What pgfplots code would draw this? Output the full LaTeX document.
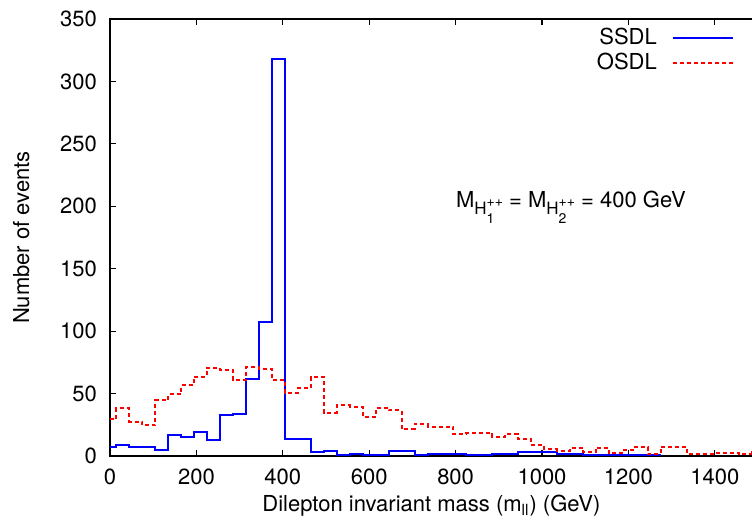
\documentclass[border=0pt]{standalone}
\usepackage{fontspec}
\setmainfont{TeX Gyre Heros}
\usepackage{amsmath}
\usepackage{pgfplots}
\pgfplotsset{compat=1.18}
\newcommand{\Hs}[1]{\raisebox{-3.6pt}{\fontsize{8.5}{8.5}\selectfont H\rlap{\raisebox{-4.6pt}{\fontsize{7}{7}\selectfont #1}}\raisebox{4.2pt}{\fontsize{7}{7}\selectfont ++}}}
\begin{document}
\begin{tikzpicture}[font=\fontsize{11}{13.2}\selectfont]
\begin{axis}[
  name=ax,
  scale only axis, width=324pt, height=218.5pt,
  xmin=0, xmax=1500, ymin=0, ymax=350,
  xtick={0,200,...,1400}, ytick={0,50,...,350},
  tick align=inside, major tick length=3pt,
  axis line style={line width=0.8pt},
  every tick/.style={black, line width=0.6pt},
  /pgf/number format/assume math mode=true,
  /pgf/number format/1000 sep={},
  xticklabel style={yshift=-3pt},
  yticklabel style={xshift=-3pt},
  xlabel={Dilepton invariant mass (m$_{\text{ll}}$) (GeV)},
  ylabel={Number of events},
  x label style={at={(axis description cs:0.496,0)}, anchor=center, yshift=-25pt},
  y label style={at={(axis description cs:-0.137,0.5)}, anchor=center},
  legend style={draw=none, fill=none, at={(1,1)}, anchor=north east, xshift=-12pt, yshift=-3pt,
    inner sep=0pt, column sep=6pt, nodes={inner sep=1.4pt}},
  legend cell align=right, legend plot pos=right,
  legend image code/.code={\draw[#1] (0pt,0pt) -- (30pt,0pt);},
]
\addplot[const plot mark left, blue, line width=1pt] coordinates {
(0,7.5) (15,9) (45,7.5) (75,7.5) (105,4.5) (135,16.5) (165,15.5) (195,19) (225,12.5)
(255,33) (285,34) (315,62) (345,107) (375,318) (405,13.5) (435,13.5) (465,3) (495,3.7)
(525,0.6) (555,2) (585,0.6) (615,0.6) (645,3.7) (675,3.7) (705,0.6) (735,2) (765,2) (795,2)
(825,0.6) (855,0.6) (885,2) (915,2) (945,3) (975,3) (1005,3) (1035,2) (1065,2) (1095,0.6)
(1125,0.6) (1155,0.6) (1185,0.6) (1215,0.6) (1245,0.6) (1275,0.6)
};
\addlegendentry{SSDL}
\addplot[const plot mark left, red, line width=1pt, dash pattern=on 2pt off 1.5pt] coordinates {
(0,29.4) (15,38.2) (45,27.5) (75,24.6) (105,44.8) (135,49.4) (165,56.9) (195,63.5) (225,70.7)
(255,68.9) (285,60.9) (315,71.5) (345,69.7) (375,60.9) (405,50.7) (435,54.7) (465,63.5)
(495,34.7) (525,40.5) (555,39.5) (585,31.5) (615,38.7) (645,36.8) (675,21.6) (705,25.6)
(735,23.5) (765,23.5) (795,17.6) (825,18.7) (855,18.7) (885,15.5) (915,17.6) (945,13.6)
(975,8.8) (1005,5.5) (1035,4.3) (1065,6.7) (1095,2.9) (1125,6.7) (1155,2.1) (1185,4.8)
(1215,7.5) (1245,1.6) (1275,7.5) (1305,7.5) (1335,1.6) (1365,1.6) (1395,2.5) (1425,2.5)
(1455,1.6) (1485,3) (1515,3)
};
\addlegendentry{OSDL}
\node[anchor=base west, inner sep=0pt] at (axis cs:800,199)
  {M\Hs{1} = M\Hs{2} = 400 GeV};
\end{axis}
\pgfresetboundingbox
\path ([shift={(-55pt,-32pt)}]ax.south west) rectangle ([shift={(-3pt,9.5pt)}]ax.north east);
\end{tikzpicture}
\end{document}
